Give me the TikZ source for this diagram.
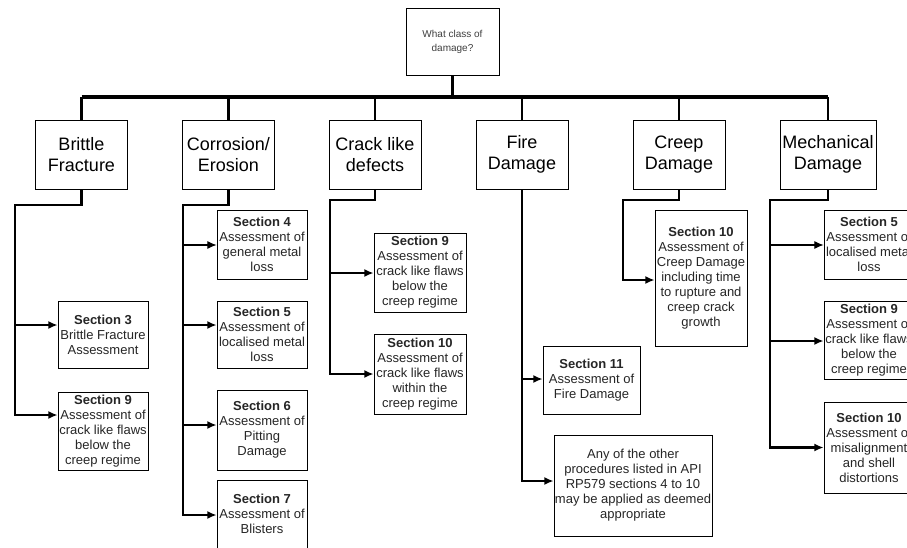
\documentclass[tikz,border=0pt]{standalone}
\usepackage{fontspec}
\setmainfont{Liberation Sans}
\usetikzlibrary{arrows.meta}
\begin{document}
\begin{tikzpicture}[x=0.75pt,y=-0.75pt,
 topbox/.style={draw, line width=0.5pt, align=center, inner sep=0pt, text=black!75, font=\fontsize{7.5}{10.5}\selectfont, minimum width=93*0.75pt, minimum height=67*0.75pt},
 catbox/.style={draw, line width=0.6pt, align=center, inner sep=0pt, font=\fontsize{13.5}{15.75}\selectfont, minimum width=92*0.75pt, minimum height=69*0.75pt},
 secbox/.style={draw, line width=0.5pt, align=center, inner sep=0pt, text=black!85, font=\fontsize{9.75}{11.25}\selectfont},
 conn/.style={line width=2pt},
 bus/.style={line width=2.4pt},
 arr/.style={line width=2pt, -{Latex[length=7pt,width=6pt]}},
 thinarr/.style={line width=0.8pt, -{Latex[length=7pt,width=6pt]}},
]
\useasboundingbox (0,0) rectangle (907,547);
\clip (0,0) rectangle (907,547);
\fill[white] (0,0) rectangle (907,547);

% top
\node[topbox] (q) at (452.5,41.5) {What class of\\damage?};

% categories
\node[catbox] (bf) at (81.5,154.5) {Brittle\\Fracture};
\node[catbox] (ce) at (228.5,154.5) {Corrosion/\\Erosion};
\node[catbox] (cl) at (375,154.5) {Crack like\\defects};
\node[catbox] (fd) at (522,154.5) {Fire\\Damage};
\node[catbox] (cd) at (679,154.5) {Creep\\Damage};
\node[catbox, minimum width=96*0.75pt] (md) at (828,154.5) {Mechanical\\Damage};

% bus
\coordinate (busL) at (81.5,97);
\coordinate (busR) at (828,97);
\draw[bus] (busL) -- (busR);
\draw[conn] (q.south) -- (q.south |- busL);
\foreach \n in {bf,ce,cl,fd,cd,md} \draw[conn] (\n.north |- busL) -- (\n.north);

% sections
\node[secbox, minimum width=90*0.75pt, minimum height=67*0.75pt] (b3) at (103,334.5) {\textbf{Section 3}\\Brittle Fracture\\Assessment};
\node[secbox, minimum width=90*0.75pt, minimum height=78*0.75pt] (b9) at (103,431) {\textbf{Section 9}\\Assessment of\\crack like flaws\\below the\\creep regime};

\node[secbox, minimum width=90*0.75pt, minimum height=69*0.75pt] (c4) at (262,244.5) {\textbf{Section 4}\\Assessment of\\general metal\\loss};
\node[secbox, minimum width=90*0.75pt, minimum height=67*0.75pt] (c5) at (262,334.5) {\textbf{Section 5}\\Assessment of\\localised metal\\loss};
\node[secbox, minimum width=90*0.75pt, minimum height=80*0.75pt] (c6) at (262,430) {\textbf{Section 6}\\Assessment of\\Pitting\\Damage};
\node[secbox, minimum width=90*0.75pt, minimum height=68*0.75pt] (c7) at (262,514) {\textbf{Section 7}\\Assessment of\\Blisters};

\node[secbox, minimum width=92*0.75pt, minimum height=79*0.75pt] (k9) at (420,272.5) {\textbf{Section 9}\\Assessment of\\crack like flaws\\below the\\creep regime};
\node[secbox, minimum width=92*0.75pt, minimum height=80*0.75pt] (k10) at (420,374) {\textbf{Section 10}\\Assessment of\\crack like flaws\\within the\\creep regime};

\node[secbox, minimum width=97*0.75pt, minimum height=68*0.75pt] (f11) at (591.5,380) {\textbf{Section 11}\\Assessment of\\Fire Damage};
\node[secbox, minimum width=158*0.75pt, minimum height=101*0.75pt] (fa) at (633,485.5) {Any of the other\\procedures listed in API\\RP579 sections 4 to 10\\may be applied as deemed\\appropriate};

\node[secbox, minimum width=92*0.75pt, minimum height=136*0.75pt] (r10) at (701,278) {\textbf{Section 10}\\Assessment of\\Creep Damage\\including time\\to rupture and\\creep crack\\growth};

\node[secbox, minimum width=90*0.75pt, minimum height=69*0.75pt] (m5) at (869,244.5) {\textbf{Section 5}\\Assessment of\\localised metal\\loss};
\node[secbox, minimum width=90*0.75pt, minimum height=78*0.75pt] (m9) at (869,340) {\textbf{Section 9}\\Assessment of\\crack like flaws\\below the\\creep regime};
\node[secbox, minimum width=90*0.75pt, minimum height=91*0.75pt] (m10) at (869,447.5) {\textbf{Section 10}\\Assessment of\\misalignment\\and shell\\distortions};

% brittle branch
\coordinate (bT) at (15,205);
\draw[arr] (bf.south) |- (bT) |- (b9.west |- 0,415);
\draw[arr] (15,325) -- (b3.west |- 0,325);

% corrosion branch
\coordinate (cT) at (183,205);
\draw[arr] (ce.south) |- (cT) |- (c7.west |- 0,515);
\draw[thinarr] (183,245) -- (c4.west |- 0,245);
\draw[arr] (183,325) -- (c5.west |- 0,325);
\draw[arr] (183,425) -- (c6.west |- 0,425);

% crack branch
\coordinate (kT) at (330,200);
\draw[arr] (cl.south) |- (kT) |- (k10.west);
\draw[arr] (330,273) -- (k9.west |- 0,273);

% fire branch
\draw[arr] (fd.south) |- (fa.west |- 0,481);
\draw[arr] (522,379) -- (f11.west |- 0,379);

% creep branch
\coordinate (rT) at (623,200);
\draw[arr] (cd.south) |- (rT) |- (r10.west |- 0,280);

% mechanical branch
\coordinate (mT) at (770,200);
\draw[arr] (md.south) |- (mT) |- (m10.west);
\draw[thinarr] (770,245) -- (m5.west |- 0,245);
\draw[arr] (770,341) -- (m9.west |- 0,341);
\end{tikzpicture}
\end{document}
